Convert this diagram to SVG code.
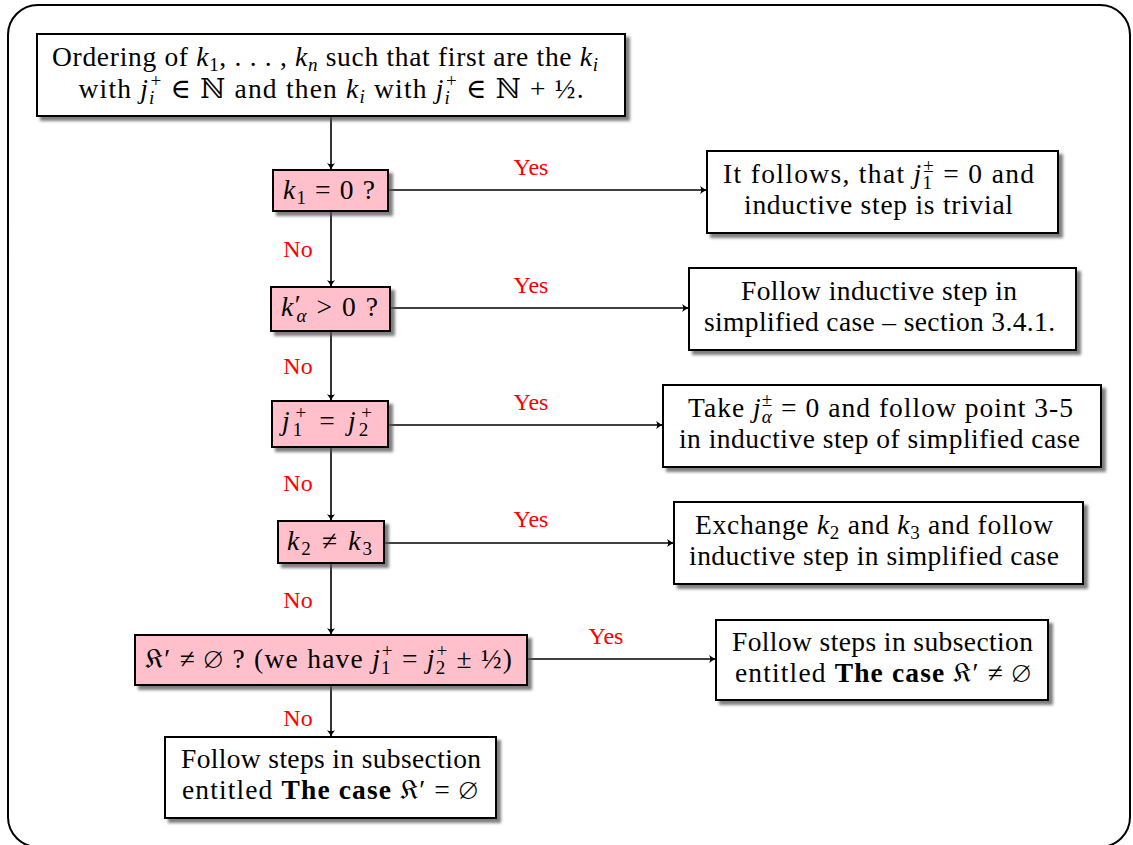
<svg xmlns="http://www.w3.org/2000/svg" width="1133" height="845" viewBox="0 0 1133 845">
  <style>
    .frame { fill: #ffffff; stroke: #000; stroke-width: 2; }
    .box { fill: #ffffff; stroke: #000; stroke-width: 2; filter: url(#shadow); }
    .dec { fill: #ffc0cb; stroke: #000; stroke-width: 2; filter: url(#shadow); }
    .t { font-family: "Liberation Serif", "DejaVu Serif", serif; font-size: 27.5px; fill: #000; text-anchor: middle; }
    .i { font-style: italic; }
    .s { font-size: 19px; }
    .b { font-weight: bold; }
    .lbl { font-family: "Liberation Serif", "DejaVu Serif", serif; font-size: 24px; fill: #ff0000; text-anchor: middle; }
    .edge { stroke: #000; stroke-width: 1.6; fill: none; marker-end: url(#arrow); }
  </style>
  <defs>
    <filter id="shadow" x="-10%" y="-20%" width="130%" height="150%">
      <feDropShadow dx="4" dy="4" stdDeviation="1.6" flood-color="#555" flood-opacity="0.75"/>
    </filter>
    <marker id="arrow" viewBox="-8 -5 10 10" refX="0" refY="0" markerWidth="10" markerHeight="10" markerUnits="userSpaceOnUse" orient="auto">
      <path d="M-7,-4 Q-3,-1 0,0 Q-3,1 -7,4 Q-4.5,0 -7,-4 Z" fill="#000"/>
    </marker>
  </defs>

  <rect class="frame" x="8" y="5" width="1122" height="842" rx="30" ry="30"/>

  <!-- connectors -->
  <g id="connectors">
    <line class="edge" x1="331" y1="116" x2="331" y2="170"/>
    <line class="edge" x1="331" y1="211" x2="331" y2="287"/>
    <line class="edge" x1="331" y1="331" x2="331" y2="401"/>
    <line class="edge" x1="331" y1="447" x2="331" y2="521"/>
    <line class="edge" x1="331" y1="563" x2="331" y2="635"/>
    <line class="edge" x1="331" y1="685" x2="331" y2="737"/>
    <line class="edge" x1="388" y1="190" x2="707" y2="190"/>
    <line class="edge" x1="390" y1="308" x2="689" y2="308"/>
    <line class="edge" x1="388" y1="425" x2="663" y2="425"/>
    <line class="edge" x1="384" y1="543" x2="674" y2="543"/>
    <line class="edge" x1="527" y1="659" x2="716" y2="659"/>
    <text class="lbl" x="531" y="175">Yes</text>
    <text class="lbl" x="531" y="293">Yes</text>
    <text class="lbl" x="531" y="410">Yes</text>
    <text class="lbl" x="531" y="527">Yes</text>
    <text class="lbl" x="606" y="644">Yes</text>
    <text class="lbl" x="298" y="257">No</text>
    <text class="lbl" x="298" y="374">No</text>
    <text class="lbl" x="298" y="491">No</text>
    <text class="lbl" x="298" y="608">No</text>
    <text class="lbl" x="298" y="726">No</text>
  </g>

  <!-- start: ordering of the k_i -->
  <g id="ordering">
    <rect class="box" x="37" y="34" width="588" height="82"/>
    <text class="t" x="325" y="66" textLength="546" lengthAdjust="spacing">Ordering of <tspan class="i">k</tspan><tspan class="s" dy="5">1</tspan><tspan dy="-5">, . . . , </tspan><tspan class="i">k</tspan><tspan class="s i" dy="5">n</tspan><tspan dy="-5"> such that first are the </tspan><tspan class="i">k</tspan><tspan class="s i" dy="5">i</tspan></text>
    <text class="t" x="331" y="98" textLength="505" lengthAdjust="spacing">with <tspan class="i">j</tspan><tspan class="s i" dy="6">i</tspan><tspan class="s" dx="-5" dy="-17">+</tspan><tspan dy="11"> ∈ ℕ and then </tspan><tspan class="i">k</tspan><tspan class="s i" dy="5">i</tspan><tspan dy="-5"> with </tspan><tspan class="i">j</tspan><tspan class="s i" dy="6">i</tspan><tspan class="s" dx="-5" dy="-17">+</tspan><tspan dy="11"> ∈ ℕ + ½.</tspan></text>
  </g>

  <!-- decision: k1 = 0 -->
  <g id="dec-k1">
    <rect class="dec" x="273" y="170" width="115" height="41"/>
    <text class="t" x="329" y="199" textLength="92" lengthAdjust="spacing"><tspan class="i">k</tspan><tspan class="s" dy="5">1</tspan><tspan dy="-5"> = 0 ?</tspan></text>
  </g>
  <g id="res-trivial">
    <rect class="box" x="707" y="151" width="351" height="82"/>
    <text class="t" x="878.5" y="183" textLength="311" lengthAdjust="spacing">It follows, that <tspan class="i">j</tspan><tspan class="s" dy="6">1</tspan><tspan class="s" dx="-10" dy="-17">±</tspan><tspan dy="11"> = 0 and</tspan></text>
    <text class="t" x="878.5" y="214" textLength="269" lengthAdjust="spacing">inductive step is trivial</text>
  </g>

  <!-- decision: k'_alpha > 0 -->
  <g id="dec-kalpha">
    <rect class="dec" x="271" y="287" width="119" height="44"/>
    <text class="t" x="329.5" y="316" textLength="97" lengthAdjust="spacing"><tspan class="i">k</tspan><tspan dy="-2">′</tspan><tspan class="s i" dx="-6" dy="8">α</tspan><tspan dy="-6"> &gt; 0 ?</tspan></text>
  </g>
  <g id="res-simplified">
    <rect class="box" x="689" y="268" width="387" height="82"/>
    <text class="t" x="879" y="300" textLength="276" lengthAdjust="spacing">Follow inductive step in</text>
    <text class="t" x="879.5" y="331" textLength="351" lengthAdjust="spacing">simplified case – section 3.4.1.</text>
  </g>

  <!-- decision: j1+ = j2+ -->
  <g id="dec-j">
    <rect class="dec" x="272" y="401" width="116" height="46"/>
    <text class="t" x="327" y="430" textLength="90" lengthAdjust="spacing"><tspan class="i">j</tspan><tspan class="s" dy="6">1</tspan><tspan class="s" dx="-10" dy="-17">+</tspan><tspan dy="11"> = </tspan><tspan class="i">j</tspan><tspan class="s" dy="6">2</tspan><tspan class="s" dx="-10" dy="-17">+</tspan></text>
  </g>
  <g id="res-point35">
    <rect class="box" x="663" y="385" width="438" height="82"/>
    <text class="t" x="880.5" y="417" textLength="385" lengthAdjust="spacing">Take <tspan class="i">j</tspan><tspan class="s i" dy="6">α</tspan><tspan class="s" dx="-11" dy="-17">±</tspan><tspan dy="11"> = 0 and follow point 3-5</tspan></text>
    <text class="t" x="879.5" y="448" textLength="401" lengthAdjust="spacing">in inductive step of simplified case</text>
  </g>

  <!-- decision: k2 != k3 -->
  <g id="dec-k2k3">
    <rect class="dec" x="278" y="521" width="106" height="42"/>
    <text class="t" x="329.5" y="550" textLength="85" lengthAdjust="spacing"><tspan class="i">k</tspan><tspan class="s" dy="5">2</tspan><tspan dy="-5"> ≠ </tspan><tspan class="i">k</tspan><tspan class="s" dy="5">3</tspan></text>
  </g>
  <g id="res-exchange">
    <rect class="box" x="674" y="502" width="409" height="82"/>
    <text class="t" x="874" y="534" textLength="358" lengthAdjust="spacing">Exchange <tspan class="i">k</tspan><tspan class="s" dy="5">2</tspan><tspan dy="-5"> and </tspan><tspan class="i">k</tspan><tspan class="s" dy="5">3</tspan><tspan dy="-5"> and follow</tspan></text>
    <text class="t" x="874" y="565" textLength="370" lengthAdjust="spacing">inductive step in simplified case</text>
  </g>

  <!-- decision: K' non-empty -->
  <g id="dec-kfrak">
    <rect class="dec" x="135" y="635" width="392" height="50"/>
    <text class="t" x="328.5" y="668" textLength="367" lengthAdjust="spacing">𝔎′ ≠ ∅ ?  (we have <tspan class="i">j</tspan><tspan class="s" dy="6">1</tspan><tspan class="s" dx="-10" dy="-17">+</tspan><tspan dy="11"> = </tspan><tspan class="i">j</tspan><tspan class="s" dy="6">2</tspan><tspan class="s" dx="-10" dy="-17">+</tspan><tspan dy="11"> ± ½)</tspan></text>
  </g>
  <g id="res-nonempty">
    <rect class="box" x="716" y="620" width="332" height="80"/>
    <text class="t" x="882.5" y="651" textLength="301" lengthAdjust="spacing">Follow steps in subsection</text>
    <text class="t" x="883" y="682" textLength="296" lengthAdjust="spacing">entitled <tspan class="b">The case</tspan> 𝔎′ ≠ ∅</text>
  </g>

  <!-- final: K' empty -->
  <g id="res-empty">
    <rect class="box" x="165" y="737" width="331" height="81"/>
    <text class="t" x="331" y="768" textLength="300" lengthAdjust="spacing">Follow steps in subsection</text>
    <text class="t" x="330" y="799" textLength="296" lengthAdjust="spacing">entitled <tspan class="b">The case</tspan> 𝔎′ = ∅</text>
  </g>
</svg>
